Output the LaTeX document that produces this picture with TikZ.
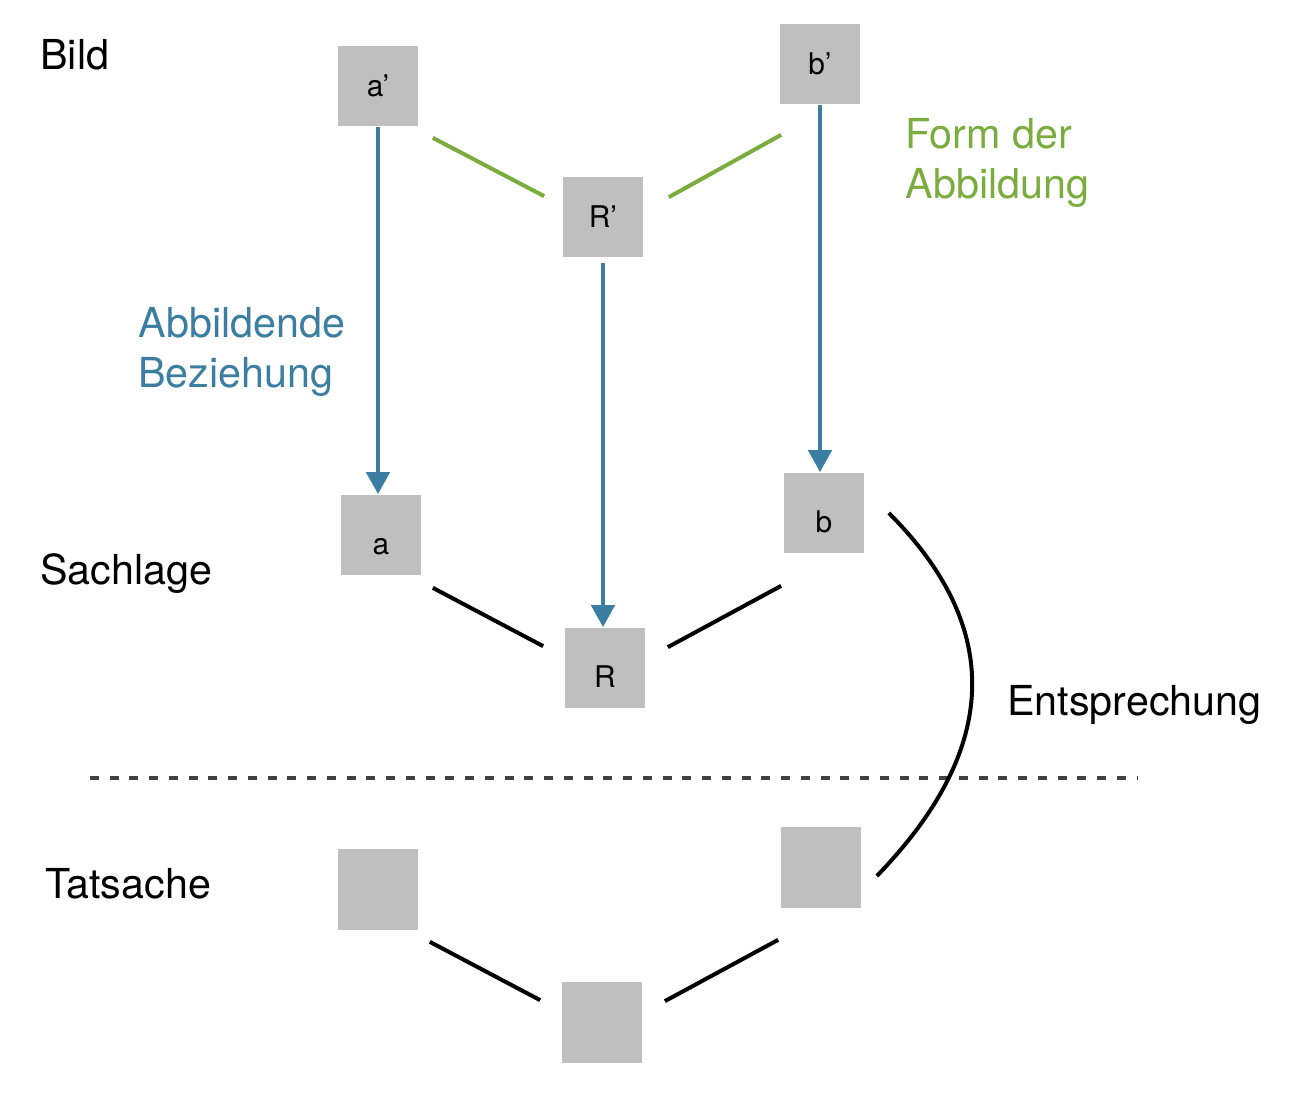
\documentclass[tikz,border=0pt]{standalone}
\usepackage{fontspec}
\setmainfont{TeX Gyre Heros}
\usetikzlibrary{arrows.meta,calc}
\definecolor{abbblue}{RGB}{59,126,161}
\definecolor{formgreen}{RGB}{122,172,62}
\definecolor{boxgray}{RGB}{191,191,191}
\definecolor{sepgray}{RGB}{64,64,64}
\begin{document}
\begin{tikzpicture}[x=0.02cm,y=-0.02cm,
        elem/.style={fill=boxgray,inner sep=0pt,minimum size=1.62cm,font=\fontsize{17}{20}\selectfont},
        low/.style={text height=0.78cm,text depth=0pt},
        lbl/.style={anchor=base west,inner sep=0pt,align=left,font=\fontsize{23.5}{27.9}\selectfont},
        link/.style={line width=0.08cm},
        abb/.style={line width=0.09cm,abbblue,-{Triangle[width=0.46cm,length=0.44cm]}}]
        \useasboundingbox (0,0) rectangle (1296,1116);
        %% Bild
        \node[elem] (ap) at (378,86) {a’};
        \node[elem] (Rp) at (603,217) {R’};
        \node[elem] (bp) at (820,64) {b’};
        %% Sachlage
        \node[elem,low] (a) at (381,535) {a};
        \node[elem,low] (R) at (605,668) {R};
        \node[elem,low] (b) at (824,513) {b};
        %% Tatsache
        \node[elem] (tl) at (378,889) {};
        \node[elem] (tm) at (602,1022) {};
        \node[elem] (tr) at (821,867) {};
        %% row labels
        \node[lbl] (bild) at (40,69) {Bild};
        \node[lbl] (sachlage) at (40,584) {Sachlage};
        \node[lbl] (tatsache) at (45,898) {Tatsache};
        %% form der abbildung
        \draw[link,formgreen] ($(ap.south east)+(14,11)$) -- ($(Rp.north west)+(-18,20)$);
        \draw[link,formgreen] ($(Rp.north east)+(25,21)$) -- ($(bp.south west)+(2,30)$);
        \node[lbl,formgreen] (form) at (905,198) {Form der\\Abbildung};
        %% abbildende beziehung
        \draw[abb] (ap.south) -- (ap.south |- a.north);
        \draw[abb] ($(Rp.south)+(0,5)$) -- (Rp.south |- R.north);
        \draw[abb] (bp.south) -- (bp.south |- b.north);
        \node[lbl,abbblue] (abbild) at (138,387) {Abbildende\\Beziehung};
        %% sachlage
        \draw[link] ($(a.south east)+(11,12)$) -- ($(R.north west)+(-21,19)$);
        \draw[link] ($(R.north east)+(22,20)$) -- ($(b.south west)+(-2,32)$);
        %% tatsache
        \draw[link] ($(tl.south east)+(11,12)$) -- ($(tm.north west)+(-21,19)$);
        \draw[link] ($(tm.north east)+(22,20)$) -- ($(tr.south west)+(-2,32)$);
        %% separator
        \draw[line width=0.08cm,sepgray,dash pattern=on 0.18cm off 0.215cm] (90,778) -- (1138,778);
        %% entsprechung
        \draw[link] ($(b.east)+(24,0)$) .. controls ($(b.east)+(139,115)$) and ($(tr.east)+(138,-118)$) .. ($(tr.east)+(15,9)$);
        \node[lbl] (entspr) at (1007,715) {Entsprechung};
    \end{tikzpicture}
\end{document}
